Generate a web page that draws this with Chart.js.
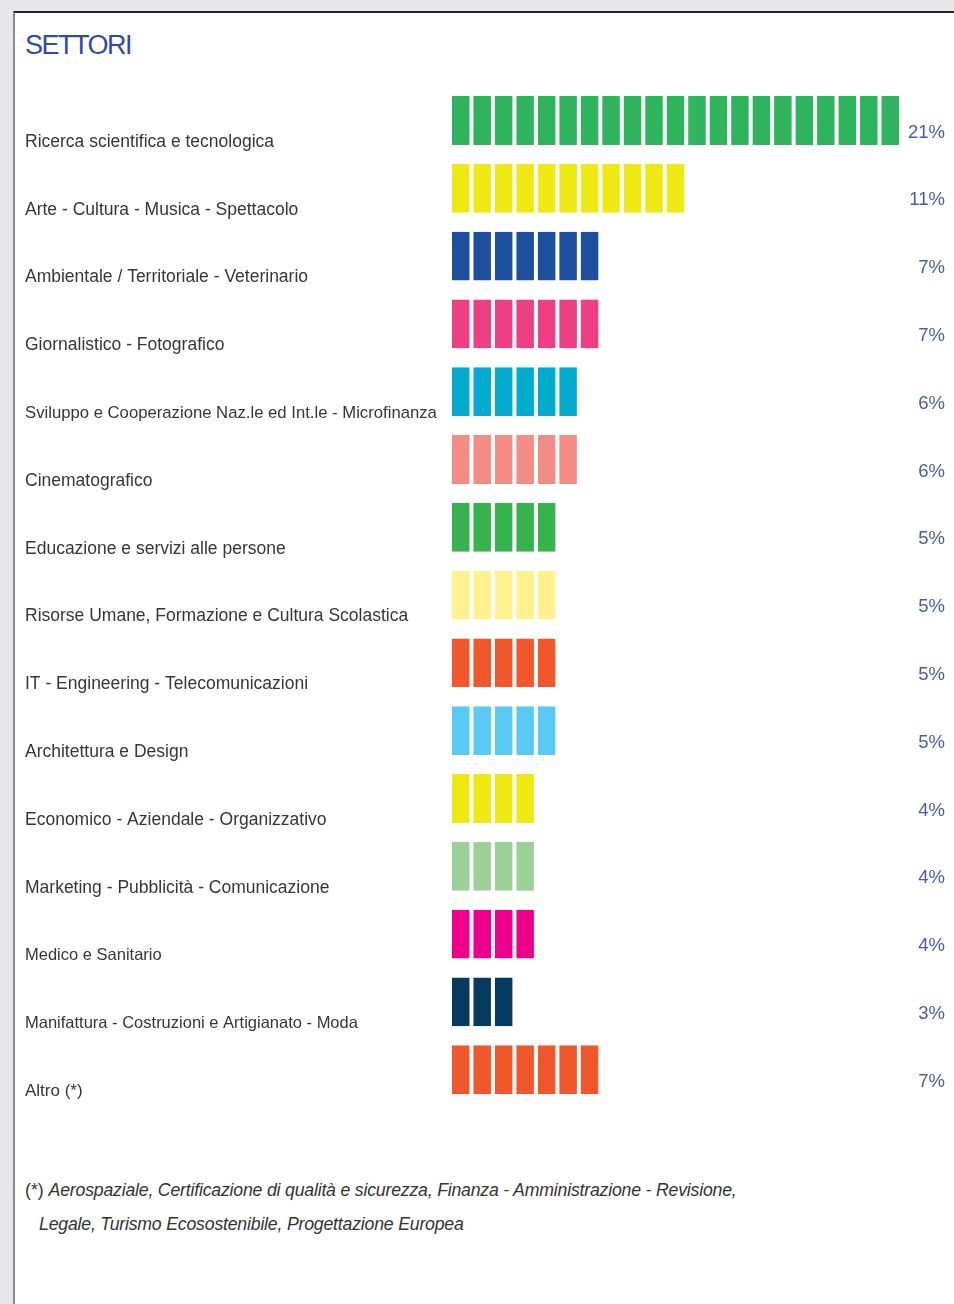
<!DOCTYPE html>
<html>
<head>
<meta charset="utf-8">
<script src="https://cdn.jsdelivr.net/npm/chart.js@4.4.1/dist/chart.umd.min.js"></script>
<style>
  html, body { margin: 0; padding: 0; }
  body { width: 954px; height: 1304px; background: #e7e7e9; position: relative; overflow: hidden;
         font-family: "Liberation Sans", Arial, sans-serif; }
  #panel { position: absolute; left: 13px; top: 11px; right: -5px; bottom: -5px; background: #fff;
           border-top: 2px solid #222; border-left: 2px solid #8a8a8a; }
  #title { position: absolute; left: 25px; top: 32px; font-size: 27px; line-height: 27px;
           color: #2f4c9e; letter-spacing: -1.5px; }
  #note { position: absolute; left: 25px; top: 1173px; font-size: 17.7px; line-height: 34px; color: #333; }
  #note i { letter-spacing: -0.2px; }
  #note .l2 { padding-left: 14px; }
  canvas { position: absolute; left: 0; top: 0; }
</style>
</head>
<body>
<div id="panel"></div>
<div id="title">SETTORI</div>
<canvas id="chart" width="954" height="1130"></canvas>
<div id="note">
  <div>(*) <i>Aerospaziale, Certificazione di qualità e sicurezza, Finanza - Amministrazione - Revisione,</i></div>
  <div class="l2"><i>Legale, Turismo Ecosostenibile, Progettazione Europea</i></div>
</div>
<script>
const sectors = [
  'Ricerca scientifica e tecnologica',
  'Arte - Cultura - Musica - Spettacolo',
  'Ambientale / Territoriale - Veterinario',
  'Giornalistico - Fotografico',
  'Sviluppo e Cooperazione Naz.le ed Int.le - Microfinanza',
  'Cinematografico',
  'Educazione e servizi alle persone',
  'Risorse Umane, Formazione e Cultura Scolastica',
  'IT - Engineering - Telecomunicazioni',
  'Architettura e Design',
  'Economico - Aziendale - Organizzativo',
  'Marketing - Pubblicità - Comunicazione',
  'Medico e Sanitario',
  'Manifattura - Costruzioni e Artigianato - Moda',
  'Altro (*)'
]
const shares = [21, 11, 7, 7, 6, 6, 5, 5, 5, 5, 4, 4, 4, 3, 7]
const shareLabels = ['21%', '11%', '7%', '7%', '6%', '6%', '5%', '5%', '5%', '5%', '4%', '4%', '4%', '3%', '7%']
const barColors = [
  '#2eb45c', '#eee813', '#1d4f9f', '#ed3f82', '#00abcd',
  '#f38c84', '#36b34c', '#fff28c', '#f0572a', '#59caf3',
  '#eee813', '#9bd096', '#ec008c', '#063b5f', '#f0582b'
]
// some labels are set tighter in the original
const labelSizes = [17.5, 17.5, 17.5, 17.5, 16.7, 17.5, 17.5, 17.5, 17.5, 17.5, 17.5, 17.5, 16.5, 16.5, 17]

// one stacked dataset per 1% block
const maxShare = Math.max(...shares)
const datasets = []
for (let k = 1; k <= maxShare; k++) {
  datasets.push({
    data: shares.map(v => v >= k ? 1 : null),
    backgroundColor: barColors,
    borderColor: '#ffffff',
    borderWidth: { left: 2, right: 2, top: 0, bottom: 0 },
    borderSkipped: false,
    categoryPercentage: 1,
    barPercentage: 0.72,
    yAxisID: 'y'
  })
}

const ctx = document.getElementById('chart').getContext('2d')
new Chart(ctx, {
  type: 'bar',
  data: { labels: sectors, datasets: datasets },
  options: {
    indexAxis: 'y',
    responsive: false,
    animation: false,
    layout: { padding: { left: 25, right: 9, top: 86.6, bottom: 26.4 } },
    plugins: { legend: { display: false }, tooltip: { enabled: false } },
    scales: {
      x: { stacked: true, min: 0, max: maxShare, display: false },
      y: {
        stacked: true,
        offset: true,
        grid: { display: false },
        border: { display: false },
        afterFit: s => { s.width = 425 },
        ticks: {
          crossAlign: 'far',
          labelOffset: 21.5,
          color: '#363636',
          font: c => ({ family: '"Liberation Sans", Arial, sans-serif', size: labelSizes[c.index] || 17.5 })
        }
      },
      y2: {
        type: 'category',
        labels: shareLabels,
        position: 'right',
        offset: true,
        grid: { display: false },
        border: { display: false },
        afterFit: s => { s.width = 44 },
        ticks: {
          crossAlign: 'far',
          labelOffset: 12,
          color: '#4a5da3',
          font: { family: '"Liberation Sans", Arial, sans-serif', size: 18.5 }
        }
      }
    }
  }
})
</script>
</body>
</html>
